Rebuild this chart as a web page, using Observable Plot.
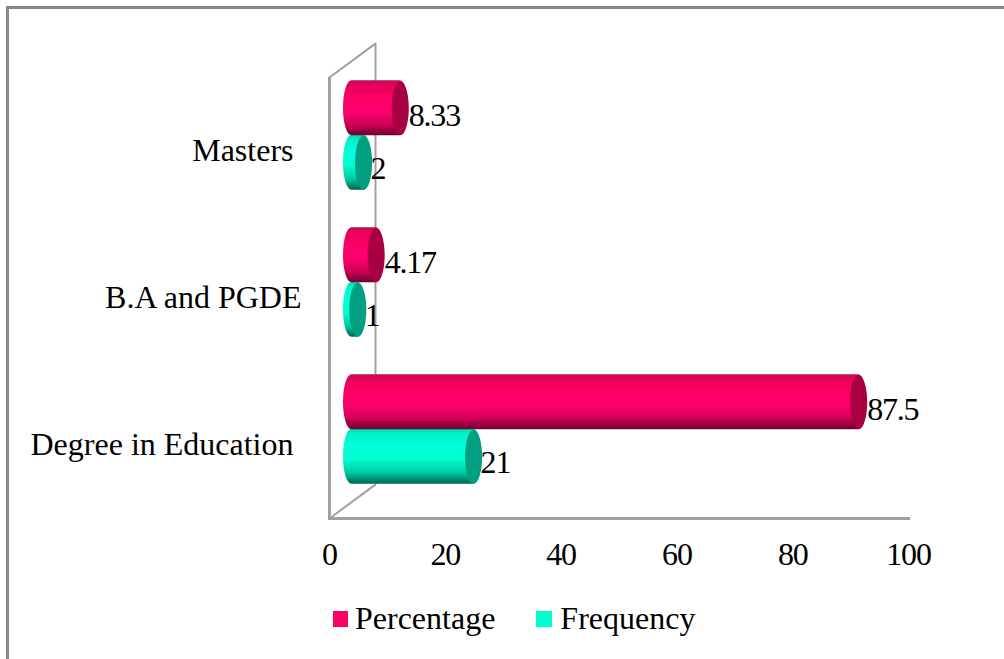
<!DOCTYPE html>
<html>
<head>
<meta charset="utf-8">
<script src="https://cdn.jsdelivr.net/npm/d3@7"></script>
<script src="https://cdn.jsdelivr.net/npm/@observablehq/plot@0.6"></script>
<style>
  html, body { margin: 0; padding: 0; background: #fff; overflow: hidden; width: 1004px; height: 659px; }
  #frame { position: absolute; left: 6px; top: 6px; right: 0; bottom: 0; border-left: 3px solid #888; border-top: 3px solid #888; pointer-events: none; }
  #chart { position: absolute; left: 0; top: 0; }
  #chart svg { display: block; }
  #legend { position: absolute; left: 333px; top: 598px; height: 40px; display: flex; align-items: center; font-family: "Liberation Serif", serif; font-size: 32px; color: #000; line-height: 40px; }
  #legend .sw { display: inline-block; width: 15px; height: 16px; margin: 2px 7px 0 0; }
  #legend .item { display: flex; align-items: center; white-space: nowrap; }
  #legend .item + .item .sw { width: 16px; margin-right: 8px; }
  .num text, text.num { letter-spacing: -1.2px; }
</style>
</head>
<body>
<div id="frame"></div>
<div id="chart"></div>
<div id="legend"></div>
<script>
// Data
const categories = ["Masters\u00a0", "B.A and PGDE", "Degree in Education\u00a0"];
const percentage = [8.33, 4.17, 87.5];
const frequency = [2, 1, 21];
const xTicks = [0, 20, 40, 60, 80, 100];
const seriesNames = ["Percentage", "Frequency"];
const seriesColors = ["#ff0066", "#00ffcc"];
const capColors = ["#a80040", "#00a080"];
const gradientStops = [
  [["0%", "#b8104e"], ["8%", "#e8005c"], ["30%", "#fb0064"], ["55%", "#ff0070"], ["80%", "#d00055"], ["100%", "#6e0030"]],
  [["0%", "#00d8b0"], ["8%", "#00f0c8"], ["30%", "#00ffdc"], ["55%", "#00ffd0"], ["80%", "#00c8a0"], ["100%", "#006450"]]
];

const pctRows = categories.map((c, i) => ({ category: c, value: percentage[i] }));
const freqRows = categories.map((c, i) => ({ category: c, value: frequency[i] }));

const gray = "#a0a0a0";
const depthX = 22.5, capRx = 8.5, capRy = 27;

// an ellipse for the end of a cylinder
const capSymbol = {
  draw(ctx) {
    const a = capRx, b = capRy, k = 0.5523;
    ctx.moveTo(a, 0);
    ctx.bezierCurveTo(a, k * b, k * a, b, 0, b);
    ctx.bezierCurveTo(-k * a, b, -a, k * b, -a, 0);
    ctx.bezierCurveTo(-a, -k * b, -k * a, -b, 0, -b);
    ctx.bezierCurveTo(k * a, -b, a, -k * b, a, 0);
    ctx.closePath();
  }
};
// a plain line for the diagonal edges of the 3-D walls
const edge = { draw(ctx, l) { ctx.moveTo(0, 0); ctx.lineTo(0, -l); } };

function defs() {
  const d = d3.create("svg:defs");
  gradientStops.forEach((stops, i) => {
    const g = d.append("linearGradient").attr("id", "cyl" + i)
      .attr("x1", 0).attr("y1", 0).attr("x2", 0).attr("y2", 1);
    stops.forEach(s => g.append("stop").attr("offset", s[0]).attr("stop-color", s[1]));
  });
  return d.node();
}

function cylinder(rows, i, dy) {
  return [
    Plot.barX(rows, {
      x1: 0, x2: "value", y: "category", dx: depthX, dy,
      insetLeft: -capRx, insetRight: -capRx, insetTop: 46, insetBottom: 46,
      rx: capRx, ry: capRy, fill: `url(#cyl${i})`
    }),
    Plot.dot(rows, {
      x: "value", y: "category", dx: depthX, dy, r: 1,
      symbol: capSymbol, fill: capColors[i], stroke: "none"
    })
  ];
}

function labels(rows, dx, dy) {
  return Plot.text(rows, {
    x: "value", y: "category", text: d => String(d.value),
    dx, dy, textAnchor: "start", fill: "#000", fontSize: 32, className: "num"
  });
}

const chart = Plot.plot({
  width: 1004,
  height: 590,
  marginLeft: 329,
  marginRight: 96,
  marginTop: 77,
  marginBottom: 72,
  style: { fontFamily: "Liberation Serif, serif", fontSize: "30px", color: "#000", background: "transparent", overflow: "visible" },
  x: { domain: [0, 100], label: null },
  y: { domain: categories, padding: 0, label: null },
  marks: [
    defs,
    // back wall and its diagonal edges
    Plot.ruleX([0], { dx: 46, dy: -34, stroke: gray, strokeWidth: 2 }),
    Plot.vector([0], { x: d => d, frameAnchor: "top", length: 57, rotate: 53.5, anchor: "start", shape: edge, stroke: gray, strokeWidth: 2 }),
    Plot.vector([0], { x: d => d, frameAnchor: "bottom", length: 57, rotate: 53.5, anchor: "start", shape: edge, stroke: gray, strokeWidth: 2 }),
    // front wall and floor
    Plot.ruleX([0], { stroke: gray, strokeWidth: 3 }),
    Plot.frame({ anchor: "bottom", stroke: gray, strokeWidth: 3 }),
    Plot.axisX({ ticks: xTicks, tickSize: 0, tickPadding: 24, label: null, fontSize: 32, className: "num" }),
    Plot.axisY({ anchor: "left", tickSize: 0, tickPadding: 28, label: null, fontSize: 32 }),
    ...cylinder(freqRows, 1, 11.8),
    ...cylinder(pctRows, 0, -42.7),
    labels(pctRows, 31, -35.5),
    labels(freqRows, 29.5, 17.5)
  ]
});
document.getElementById("chart").appendChild(chart);

const legend = d3.select("#legend");
seriesNames.forEach((name, i) => {
  const item = legend.append("div").attr("class", "item").style("margin-right", i === 0 ? "41px" : "0");
  item.append("span").attr("class", "sw").style("background", seriesColors[i]);
  item.append("span").text(name);
});
</script>
</body>
</html>
